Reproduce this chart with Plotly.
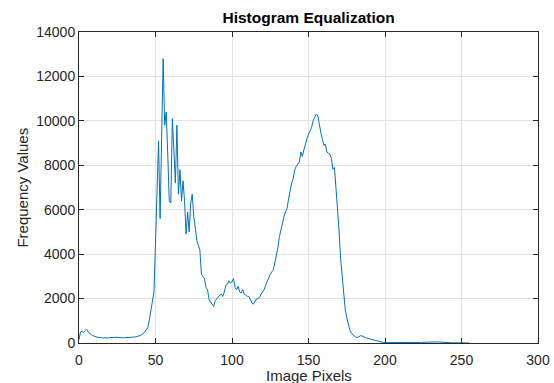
import plotly.graph_objects as go

pixels = list(range(0, 256))
freq = [
    150, 500, 520, 480, 560, 620, 500, 420, 380, 330,   # 0-9
    300, 280, 260, 240, 250, 230, 220, 240, 230, 220,   # 10-19
    250, 240, 240, 250, 260, 250, 240, 250, 240, 230,   # 20-29
    240, 240, 230, 250, 240, 260, 280, 270, 300, 310,   # 30-39
    330, 380, 420, 500, 620, 700, 1050, 1450, 1900, 2300,  # 40-49
    4500, 7000, 9100, 5600, 9500, 12800, 9800, 10400, 8500, 6400,  # 50-59
    6300, 10100, 8700, 7200, 9800, 6700, 7800, 6400, 7300, 6400,  # 60-69
    4900, 5900, 5000, 6300, 6700, 5700, 5200, 4600, 4400, 4200,  # 70-79
    3100, 3000, 2900, 2500, 2400, 1950, 1850, 1800, 1650, 1900,  # 80-89
    2000, 2100, 2150, 2200, 2100, 2300, 2600, 2650, 2800, 2700,  # 90-99
    2750, 2900, 2500, 2400, 2550, 2300, 2250, 2400, 2200, 2150,  # 100-109
    2100, 2100, 1950, 1800, 1750, 1850, 1980, 2000, 2050, 2200,  # 110-119
    2300, 2400, 2600, 2800, 2990, 3100, 3200, 3290, 3600, 3890,  # 120-129
    4300, 4790, 5100, 5500, 5700, 5900, 6060, 6500, 6900, 7200,  # 130-139
    7400, 7800, 7950, 8050, 8150, 8600, 8400, 8700, 9000, 9200,  # 140-149
    9400, 9590, 9700, 10000, 10200, 10300, 10250, 9800, 9500, 9200,  # 150-159
    8900, 8950, 8600, 8540, 8500, 8300, 7820, 7900, 7000, 6100,  # 160-169
    5000, 3800, 2900, 2100, 1500, 1150, 800, 590, 450, 360,  # 170-179
    300, 260, 250, 280, 330, 320, 270, 250, 220, 200,   # 180-189
    180, 150, 135, 110, 90, 70, 50, 35, 25, 20,          # 190-199
    15, 14, 12, 12, 10, 12, 14, 12, 10, 12,              # 200-209
    14, 12, 15, 16, 14, 18, 20, 18, 16, 20,              # 210-219
    22, 20, 24, 26, 30, 34, 38, 44, 50, 56,              # 220-229
    60, 64, 66, 62, 58, 50, 40, 32, 26, 22,              # 230-239
    20, 18, 16, 14, 12, 10, 9, 8, 7, 6,                  # 240-249
    5, 4, 3, 2, 1, 0,                                    # 250-255
]

x_ticks = [0, 50, 100, 150, 200, 250, 300]
y_ticks = [0, 2000, 4000, 6000, 8000, 10000, 12000, 14000]
y_tick_labels = ["0", "2000", "4000", "6000", "8000", "10000", "12000", "14000"]
x_tick_labels = ["0", "50", "100", "150", "200", "250", "300"]

FONT = "Liberation Sans, Arial"

fig = go.Figure()
fig.add_trace(go.Scatter(
    x=pixels, y=freq, mode="lines",
    line=dict(color="#0072BD", width=1),
    showlegend=False,
))

axis_common = dict(
    showline=True, linecolor="#262626", linewidth=1, mirror="ticks",
    ticks="inside", ticklen=5, tickcolor="#262626", tickwidth=1,
    showgrid=True, gridcolor="#e3e3e3", gridwidth=1, zeroline=False,
    tickfont=dict(family=FONT, size=14, color="#262626"),
    automargin=False,
)

fig.update_layout(
    width=554, height=383,
    margin=dict(l=79, r=16, t=32, b=40),
    paper_bgcolor="white", plot_bgcolor="white",
    title=dict(
        text="<b>Histogram Equalization</b>",
        x=0.557, xanchor="center", y=0.953, yanchor="middle",
        font=dict(family=FONT, size=15.5, color="black"),
    ),
    xaxis=dict(
        range=[0, 300], tickvals=x_ticks, ticktext=x_tick_labels,
        ticklabelstandoff=4,
        **axis_common,
    ),
    yaxis=dict(
        range=[0, 14000], tickvals=y_ticks, ticktext=y_tick_labels,
        **axis_common,
    ),
    annotations=[
        dict(text="Image Pixels", xref="paper", yref="paper",
             x=0.5, y=-0.103, xanchor="center", yanchor="middle",
             showarrow=False,
             font=dict(family=FONT, size=15, color="#262626")),
        dict(text="Frequency Values", xref="paper", yref="paper",
             x=-0.124, y=0.5, xanchor="center", yanchor="middle",
             textangle=-90, showarrow=False,
             font=dict(family=FONT, size=15, color="#262626")),
    ],
)

fig.write_html("out.html")
